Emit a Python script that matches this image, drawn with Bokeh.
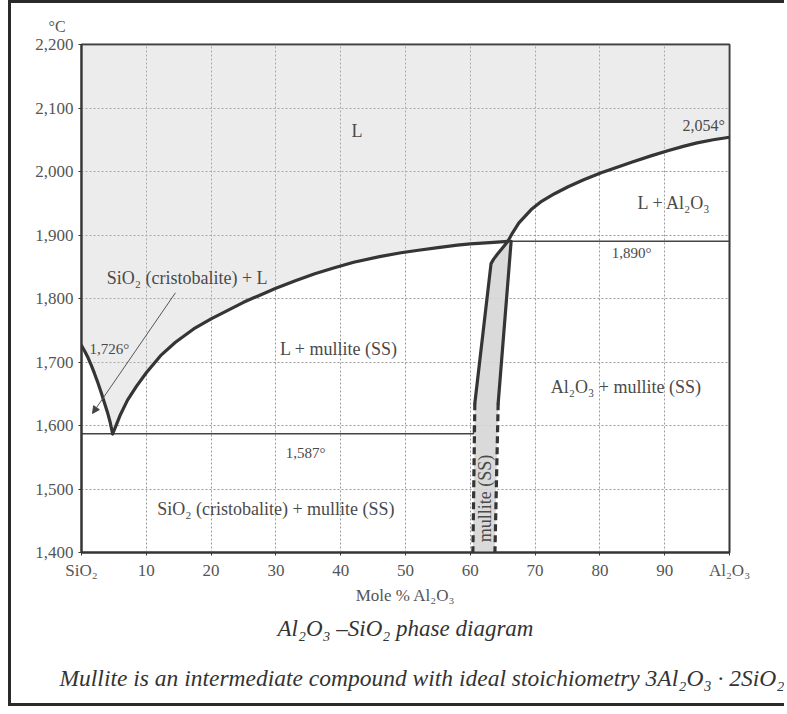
from bokeh.plotting import figure
from bokeh.models import Label, Arrow, NormalHead, FixedTicker, NumeralTickFormatter, Title
from bokeh.embed import file_html
from bokeh.resources import INLINE

# ---------------- data ----------------
x_ticks = [0, 10, 20, 30, 40, 50, 60, 70, 80, 90, 100]
x_tick_labels = ["SiO₂", "10", "20", "30", "40", "50", "60", "70", "80", "90", "Al₂O₃"]
t_ticks = [1400, 1500, 1600, 1700, 1800, 1900, 2000, 2100, 2200]

# SiO2 (cristobalite) liquidus
left_liq_x = [0, 0.5, 1, 1.5, 2, 2.5, 3, 3.5, 4, 4.4, 4.8]
left_liq_t = [1726, 1717, 1707, 1695, 1682, 1668, 1653, 1637, 1621, 1606, 1587]
# mullite liquidus
mull_liq_x = [4.8, 5.3, 6.0, 7.1, 8.5, 10, 12.2, 14.5, 17.3, 20, 22.5, 25, 27.7, 30,
              33, 36, 38.9, 42, 46, 49.3, 52, 55, 58, 60, 63, 65.8]
mull_liq_t = [1587, 1599, 1617, 1640, 1662, 1683, 1710, 1731, 1752, 1768, 1781, 1794, 1806, 1816,
              1828, 1839, 1848, 1857, 1866, 1872, 1876, 1880, 1884, 1886, 1888, 1890]
# Al2O3 liquidus
al_liq_x = [65.8, 66.5, 67.5, 69.4, 71, 73, 75.1, 77.5, 80.2, 83, 85, 88, 90.6, 93, 95, 97.5, 100]
al_liq_t = [1890, 1903, 1919, 1940, 1953, 1965, 1976, 1987, 1998, 2008, 2015, 2025, 2033, 2040, 2045, 2050, 2054]

# mullite (SS) field boundaries
mull_left_x = [65.8, 65.0, 64.2, 63.6, 63.2, 60.7]
mull_left_t = [1890, 1880, 1870, 1862, 1855, 1635]
mull_right_x = [66.3, 64.3]
mull_right_t = [1890, 1635]
mull_left_dash_x = [60.7, 60.4]
mull_left_dash_t = [1635, 1400]
mull_right_dash_x = [64.3, 63.8]
mull_right_dash_t = [1635, 1400]

# invariant lines
eutectic_x = [0, 60.5, 60.5]
eutectic_t = [1587, 1587, 1600]
peritectic_x = [65.8, 100]
peritectic_t = [1890, 1890]

FONT = "Liberation Serif"
DARK = "#353535"
TXT = "#4a4a4a"

p = figure(width=776, height=706, x_range=(0, 100), y_range=(1400, 2200),
           output_backend="svg", toolbar_location=None,
           min_border_left=70, min_border_right=58, min_border_top=41, min_border_bottom=157,
           background_fill_color="white", border_fill_color="white")
p.styles = {"margin-left": "8px",
            "border-left": "3px solid #2a2a2a", "border-top": "3px solid #2a2a2a",
            "border-bottom": "3px solid #2a2a2a"}

# grid
p.xgrid.ticker = FixedTicker(ticks=x_ticks)
p.ygrid.ticker = FixedTicker(ticks=t_ticks)
for g in (p.xgrid, p.ygrid):
    g.grid_line_color = "#9a9a9a"
    g.grid_line_dash = "2 2"
    g.grid_line_width = 1

# axes
p.xaxis.ticker = FixedTicker(ticks=x_ticks)
p.xaxis.major_label_overrides = {t: l for t, l in zip(x_ticks, x_tick_labels)}
p.yaxis.ticker = FixedTicker(ticks=t_ticks)
p.yaxis.formatter = NumeralTickFormatter(format="0,0")
for ax in (p.xaxis, p.yaxis):
    ax.axis_line_color = DARK
    ax.axis_line_width = 2
    ax.major_tick_out = 3
    ax.major_tick_in = 0
    ax.major_tick_line_color = DARK
    ax.minor_tick_line_color = None
    ax.major_label_text_font = FONT
    ax.major_label_text_font_size = "17px"
    ax.major_label_text_color = "#555555"
    ax.major_label_standoff = 5
p.xaxis.axis_label = "Mole % Al₂O₃"
p.xaxis.axis_label_text_font = FONT
p.xaxis.axis_label_text_font_style = "normal"
p.xaxis.axis_label_text_font_size = "17px"
p.xaxis.axis_label_text_color = "#555555"
p.xaxis.axis_label_standoff = 3
p.outline_line_color = DARK
p.outline_line_width = 2

# shaded liquid region
liq_x = [0] + left_liq_x + mull_liq_x[1:] + al_liq_x[1:] + [100]
liq_t = [2200] + left_liq_t + mull_liq_t[1:] + al_liq_t[1:] + [2200]
p.patch(liq_x, liq_t, fill_color="#c8c8c8", fill_alpha=0.35, line_color=None)

# mullite band
band_x = mull_left_x + mull_left_dash_x[1:] + mull_right_dash_x[::-1] + mull_right_x[::-1]
band_t = mull_left_t + mull_left_dash_t[1:] + mull_right_dash_t[::-1] + mull_right_t[::-1]
p.patch(band_x, band_t, fill_color="#d6d6d6", fill_alpha=0.9, line_color=None)

# thin invariant lines
p.line(eutectic_x, eutectic_t, line_color="#444444", line_width=1.5)
p.line(peritectic_x, peritectic_t, line_color="#444444", line_width=1.5)

# thick boundaries
for xs, ts in ((left_liq_x, left_liq_t), (mull_liq_x, mull_liq_t), (al_liq_x, al_liq_t),
               (mull_left_x, mull_left_t), (mull_right_x, mull_right_t)):
    p.line(xs, ts, line_color=DARK, line_width=3.2, line_join="round", line_cap="round")
for xs, ts in ((mull_left_dash_x, mull_left_dash_t), (mull_right_dash_x, mull_right_dash_t)):
    p.line(xs, ts, line_color=DARK, line_width=3.2, line_dash="7 4")

# arrow
p.add_layout(Arrow(end=NormalHead(size=7, fill_color="#444444", line_color="#444444"),
                   x_start=14.5, y_start=1809, x_end=1.7, y_end=1619,
                   line_color="#555555", line_width=1))


def lab(x, y, text, size="18px", align="center", angle=0, color=TXT):
    p.add_layout(Label(x=x, y=y, text=text, text_align=align, text_baseline="middle",
                       text_font=FONT, text_font_size=size, text_color=color,
                       angle=angle, angle_units="deg"))


lab(42.5, 2064, "L")
lab(99.3, 2072, "2,054°", size="16px", align="right")
lab(91.5, 1951, "L + Al₂O₃")
lab(84.9, 1871, "1,890°", size="15px")
lab(16.3, 1833, "SiO₂ (cristobalite) + L")
lab(4.3, 1721, "1,726°", size="15px")
lab(39.7, 1721, "L + mullite (SS)")
lab(34.6, 1557, "1,587°", size="15px")
lab(84, 1660, "Al₂O₃ + mullite (SS)")
lab(30, 1469, "SiO₂ (cristobalite) + mullite (SS)")
lab(62.3, 1485, "mullite (SS)", angle=90)

# unit label above the y axis
p.add_layout(Title(text="°C", align="left", offset=-33, standoff=20,
                   text_font=FONT, text_font_size="16px", text_font_style="normal",
                   text_color="#555555"), "above")

# captions below the chart
p.add_layout(Title(text="Al₂O₃ –SiO₂ phase diagram", align="center", standoff=13,
                   text_font=FONT, text_font_size="23px", text_font_style="italic",
                   text_color="#333333"), "below")
p.add_layout(Title(text="Mullite is an intermediate compound with ideal stoichiometry 3Al₂O₃ · 2SiO₂",
                   align="left", offset=-22, standoff=31,
                   text_font=FONT, text_font_size="23.5px", text_font_style="italic",
                   text_color="#333333"), "below")

open("out.html", "w").write(file_html(p, INLINE))
